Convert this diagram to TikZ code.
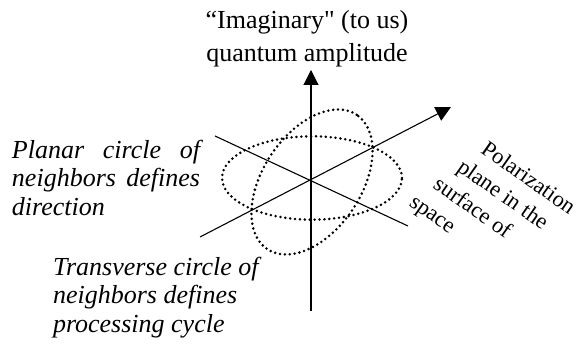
\documentclass[tikz,border=0pt]{standalone}
\usepackage{fontspec}
\setmainfont{Liberation Serif}
\newfontfamily\rawserif{Liberation Serif}[Ligatures=TeXOff]
\usetikzlibrary{arrows.meta}
\begin{document}
\begin{tikzpicture}[x=1pt,y=1pt,
  axis/.style={line width=1.1pt,draw=black},
  arrowaxis/.style={axis,-{Triangle[length=15pt,width=15pt]}},
  dotring/.style={line width=2.8pt,line cap=round,dash pattern=on 0pt off 4.9pt,draw=black},
  label/.style={inner sep=0pt,outer sep=0pt,text=black}]
\useasboundingbox (0,0) rectangle (580,353);
% axes
\coordinate (vb) at (311,42);
\coordinate (vt) at (311,283);
\coordinate (ds) at (200,116);
\coordinate (dt) at (451,246);
\coordinate (ls) at (215,217);
\coordinate (le) at (408,127);
\draw[arrowaxis] (vb) -- (vt);
\draw[arrowaxis] (ds) -- (dt);
\draw[axis] (ls) -- (le);
% rings
\coordinate (c1) at (312,175);
\coordinate (c2) at (312,171);
\draw[dotring] (c1) ellipse [x radius=90, y radius=41.7];
\draw[dotring] (c2) ellipse [x radius=80.7, y radius=49.1, rotate=56.4];
% texts
\node[label,anchor=north,align=center,font=\rawserif\fontsize{26}{33}\selectfont] (top) at (307,343)
  {“Imaginary" (to us)\\quantum amplitude};
\node[label,anchor=north west,text width=188pt,align=justify,font=\fontsize{26}{28.5}\selectfont\itshape] (planar) at (12,213)
  {Planar circle of neighbors defines direction};
\node[label,anchor=north west,align=left,font=\fontsize{26}{28.5}\selectfont\itshape] (trans) at (53,96)
  {Transverse circle of\\neighbors defines\\processing cycle};
\node[label,anchor=north west,align=left,rotate=-35,font=\fontsize{22.5}{28}\selectfont] (polar) at (465.5,229.5)
  {\hspace*{28.5pt}Polarization\\\hspace*{19pt}plane in the\\\hspace*{9.5pt}surface of\\space};
\end{tikzpicture}
\end{document}
